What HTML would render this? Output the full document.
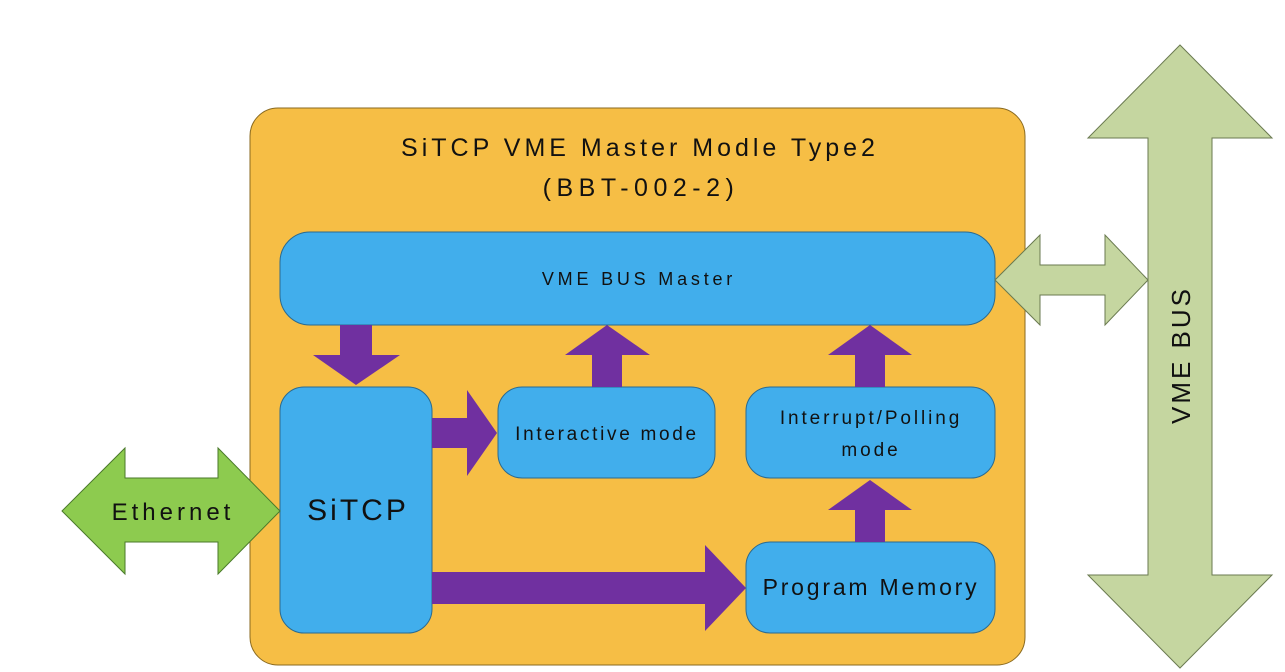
<!DOCTYPE html>
<html><head><meta charset="utf-8"><style>
html,body{margin:0;padding:0;background:#fff;}
svg{display:block;}
text{font-family:"Liberation Sans","DejaVu Sans",sans-serif;}
</style></head><body>
<svg width="1285" height="672" viewBox="0 0 1285 672">
<!-- main box -->
<rect x="250" y="108" width="775" height="557" rx="28" fill="#F6BE45" stroke="#8a6a20" stroke-width="1"/>
<text x="640" y="156" font-size="25" letter-spacing="4" text-anchor="middle" fill="#111">SiTCP VME Master Modle Type2</text>
<text x="641" y="196" font-size="25" letter-spacing="5.5" text-anchor="middle" fill="#111">(BBT-002-2)</text>

<!-- boxes -->
<g fill="#41AEEC" stroke="#2a6a90" stroke-width="1">
<rect x="280" y="232" width="715" height="93" rx="30"/>
<rect x="280" y="387" width="152" height="246" rx="24"/>
<rect x="498" y="387" width="217" height="91" rx="24"/>
<rect x="746" y="387" width="249" height="91" rx="24"/>
<rect x="746" y="542" width="249" height="91" rx="24"/>
</g>
<text x="639" y="285" font-size="18" letter-spacing="3.8" text-anchor="middle" fill="#111">VME BUS Master</text>
<text x="358" y="520" font-size="30" letter-spacing="3" text-anchor="middle" fill="#111">SiTCP</text>
<text x="607" y="440" font-size="19" letter-spacing="2.7" text-anchor="middle" fill="#111">Interactive mode</text>
<text x="871" y="424" font-size="19" letter-spacing="2.9" text-anchor="middle" fill="#111">Interrupt/Polling</text>
<text x="871" y="456" font-size="19" letter-spacing="2.9" text-anchor="middle" fill="#111">mode</text>
<text x="871" y="595" font-size="23" letter-spacing="2.8" text-anchor="middle" fill="#111">Program Memory</text>

<!-- purple arrows -->
<g fill="#7030A0">
<polygon points="340,325 372,325 372,355 400,355 356,385 313,355 340,355"/>
<polygon points="592,387 622,387 622,355 650,355 607,325 565,355 592,355"/>
<polygon points="855,387 885,387 885,355 912,355 870,325 828,355 855,355"/>
<polygon points="432,418 467,418 467,390 497,433 467,476 467,448 432,448"/>
<polygon points="855,542 885,542 885,510 912,510 870,480 828,510 855,510"/>
<polygon points="432,572 705,572 705,545 746,588 705,631 705,604 432,604"/>
</g>

<!-- Ethernet -->
<polygon points="62,511 125,448 125,478 218,478 218,448 280,511 218,574 218,542 125,542 125,574" fill="#8DCB4F" stroke="#4a7a2a" stroke-width="1"/>
<text x="173" y="520" font-size="24" letter-spacing="4" text-anchor="middle" fill="#111">Ethernet</text>

<!-- VME horizontal double arrow -->
<polygon points="995,280 1040,235 1040,265 1105,265 1105,235 1148,280 1105,325 1105,295 1040,295 1040,325" fill="#C5D6A0" stroke="#6a7a50" stroke-width="1"/>

<!-- VME BUS vertical -->
<polygon points="1180,45 1272,138 1212,138 1212,575 1272,575 1180,668 1088,575 1148,575 1148,138 1088,138" fill="#C5D6A0" stroke="#6a7a50" stroke-width="1"/>
<text x="0" y="0" font-size="26" letter-spacing="3" text-anchor="middle" fill="#111" transform="translate(1190,355) rotate(-90)">VME BUS</text>
</svg>
</body></html>
